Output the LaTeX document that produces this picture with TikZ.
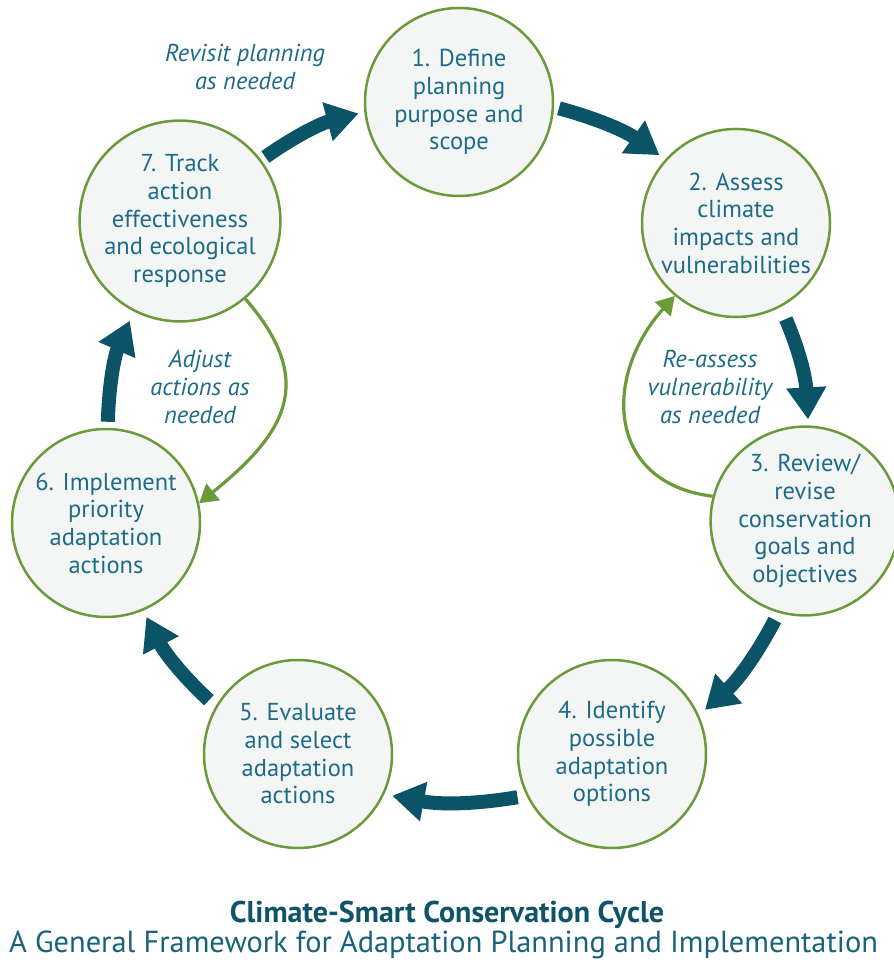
\documentclass[tikz,border=0pt]{standalone}
\usepackage{fontspec}
\setmainfont{PT Sans}
\usetikzlibrary{arrows.meta}
\definecolor{ringgreen}{HTML}{6A9A3A}
\definecolor{fillgray}{HTML}{F4F6F6}
\definecolor{textblue}{HTML}{1D6B87}
\definecolor{arrowteal}{HTML}{0B5468}
\definecolor{titleteal}{HTML}{0E5468}
\definecolor{subteal}{HTML}{1A627A}
\begin{document}
\begin{tikzpicture}[x=1pt,y=1pt,
  stepcircle/.style={circle, draw=ringgreen, line width=2.5pt, fill=fillgray,
    minimum size=188pt, inner sep=0pt, align=center, text=textblue,
    font=\fontsize{24.5}{27.7}\selectfont},
  cyclearrow/.style={draw=arrowteal, line width=14pt,
    -{Triangle[length=32pt,width=38pt]}},
  loopback/.style={draw=ringgreen, line width=3.2pt,
    -{Triangle[length=18pt,width=21pt]}},
  note/.style={align=center, text=textblue,
    font=\itshape\fontsize{24.5}{28}\selectfont}
]
\useasboundingbox (0,0) rectangle (894,970);
\clip (0,0) rectangle (894,970);
\fill[white] (0,0) rectangle (894,970);

\node[stepcircle] (n1) at (459,868) {1. Define\\planning\\purpose and\\scope};
\node[stepcircle] (n2) at (736,747) {2. Assess\\climate\\impacts and\\vulnerabilities};
\node[stepcircle] (n3) at (805,449) {3. Review/\\revise\\conservation\\goals and\\objectives};
\node[stepcircle] (n4) at (612,216) {4. Identify\\possible\\adaptation\\options};
\node[stepcircle] (n5) at (298,216) {5. Evaluate\\and select\\adaptation\\actions};
\node[stepcircle] (n6) at (106,447) {6. Implement\\priority\\adaptation\\actions};
\node[stepcircle] (n7) at (180,749) {7. Track\\action\\effectiveness\\and ecological\\response};

\draw[cyclearrow, shorten <=5pt, shorten >=7pt] (n1.-3) to[bend left=10] (n2.138);
\draw[cyclearrow, shorten <=13pt, shorten >=6pt] (n2.-62) to[bend left=10] (n3.88);
\draw[cyclearrow, shorten <=8pt, shorten >=8pt] (n3.-106) to[bend left=10] (n4.24);
\draw[cyclearrow, shorten <=9pt, shorten >=8pt] (n4.206) to[bend left=10] (n5.-25);
\draw[cyclearrow, shorten <=9pt, shorten >=7pt] (n5.150) to[bend left=10] (n6.-67);
\draw[cyclearrow, shorten <=6pt, shorten >=10pt] (n6.89) to[bend left=11] (n7.-117);
\draw[cyclearrow, shorten <=5pt, shorten >=6pt] (n7.37) to[bend left=10] (n1.186);

\draw[loopback] (n3.165) to[out=173, in=228, looseness=1.35] (n2.230);
\draw[loopback] (n7.310) to[out=311, in=39, looseness=1.35] (n6.12);

\node[note] (lab1) at (245,903) {Revisit planning\\as needed};
\node[note] (lab2) at (200,583) {Adjust\\actions as\\needed};
\node[note] (lab3) at (710,583) {Re-assess\\vulnerability\\as needed};

\node[anchor=base, inner sep=0pt, text=titleteal,
  font=\bfseries\fontsize{30}{32}\selectfont] (title) at (447,47)
  {Climate-Smart Conservation Cycle};
\node[anchor=base west, inner sep=0pt, text=subteal,
  font=\fontsize{30.4}{33}\selectfont] (subtitle) at (9,17)
  {A General Framework for Adaptation Planning and Implementation};
\end{tikzpicture}
\end{document}
